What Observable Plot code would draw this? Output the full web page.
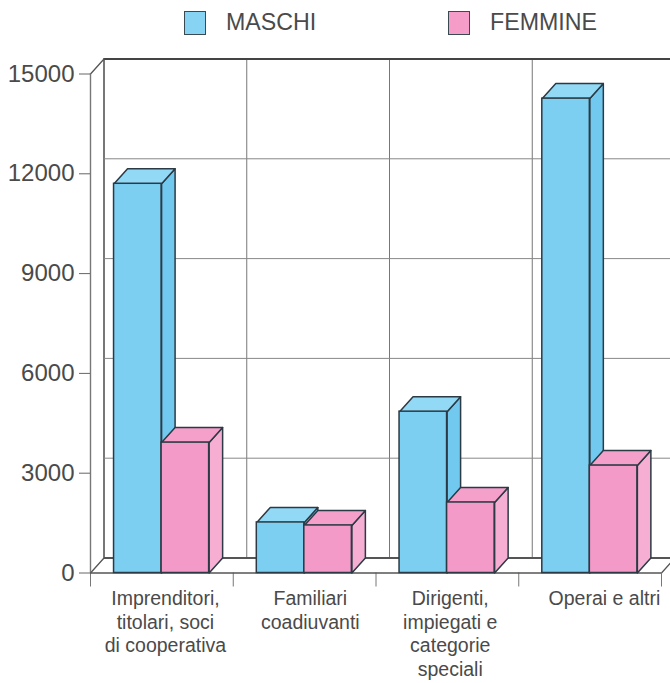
<!DOCTYPE html>
<html><head><meta charset="utf-8">
<script src="https://cdn.jsdelivr.net/npm/d3@7"></script>
<script src="https://cdn.jsdelivr.net/npm/@observablehq/plot@0.6"></script>
<style>
html,body{margin:0;padding:0;background:#fff;overflow:hidden}
#wrap{position:relative;width:670px;height:683px;font-family:"Liberation Sans",sans-serif;color:#4a4a4a}
#legend{position:relative;height:46px}
#legend i{position:absolute;top:12px;width:20px;height:22px;border:1.5px solid #3a4a52;box-sizing:content-box;margin:-1px}
#legend span{position:absolute;top:9px;font-size:23.2px;line-height:26px}
svg{display:block}
</style></head><body>
<div id="wrap">
<div id="legend">
<i style="left:185px;background:#86d3f3"></i><span style="left:226px">MASCHI</span>
<i style="left:449px;background:#f59cc9"></i><span style="left:490px">FEMMINE</span>
</div>
<div id="chart"></div>
</div>
<script>
const categories = ["Imprenditori,\ntitolari, soci\ndi cooperativa","Familiari\ncoadiuvanti","Dirigenti,\nimpiegati e\ncategorie\nspeciali","Operai e altri"];
const maschi  = [11700, 1520, 4850, 14260];
const femmine = [3920, 1430, 2120, 3230];
const yTicks  = [0, 3000, 6000, 9000, 12000, 15000];
const labelAt = [0.525, 1.54, 2.52, 3.6];

const depthX = 13.5 / 142.75, depthY = 451;     // oblique depth, in data units
const barW = 0.333, barStart = 0.165;
const ink = "#2b3a44";

const bars = [];
categories.forEach((c, i) => {
  bars.push({id: "m" + i, x1: i + barStart, x2: i + barStart + barW, v: maschi[i], front: "#7dcff2", top: "#92d9f6", side: "#72c9ef"});
  bars.push({id: "f" + i, x1: i + barStart + barW, x2: i + barStart + 2 * barW, v: femmine[i], front: "#f49ac8", top: "#f59fcb", side: "#f7aed3"});
});
const ring = (b, pts) => pts.map(([x, y]) => ({id: b.id, x, y}));
const sideRing = b => ring(b, [[b.x2, 0], [b.x2 + depthX, depthY], [b.x2 + depthX, b.v + depthY], [b.x2, b.v], [b.x2, 0]]);
const topRing = b => ring(b, [[b.x1, b.v], [b.x1 + depthX, b.v + depthY], [b.x2 + depthX, b.v + depthY], [b.x2, b.v], [b.x1, b.v]]);

const wallX = [1, 2, 3];
const wallY = yTicks.filter(v => v > 0 && v < 15000);

const marks = [
  // back wall
  Plot.ruleX(wallX, {x: d => d + depthX, y1: depthY, y2: 15000 + depthY, stroke: "#777", strokeWidth: 1}),
  Plot.ruleX([0], {x: d => d + depthX, y1: depthY, y2: 15000 + depthY, stroke: "#555", strokeWidth: 1.6}),
  Plot.ruleY(wallY, {y: d => d + depthY, x1: depthX, x2: 4 + depthX, stroke: "#888", strokeWidth: 1}),
  Plot.ruleY([15000 + depthY], {x1: depthX, x2: 4 + depthX, stroke: "#444", strokeWidth: 1.8}),
  Plot.ruleY([depthY], {x1: depthX, x2: 4 + depthX, stroke: "#555", strokeWidth: 2}),
  // side walls edges
  Plot.line([{x: 0, y: 15000}, {x: depthX, y: 15000 + depthY}], {x: "x", y: "y", stroke: "#555", strokeWidth: 1.3}),
  Plot.line([{x: 0, y: 0}, {x: depthX, y: depthY}], {x: "x", y: "y", stroke: "#555", strokeWidth: 1.3}),
  Plot.line([{x: 4, y: 0}, {x: 4 + depthX, y: depthY}], {x: "x", y: "y", stroke: "#555", strokeWidth: 1.3}),
  // axes
  Plot.ruleX([0], {y1: 0, y2: 15000, stroke: "#777", strokeWidth: 1.4}),
  Plot.axisY(yTicks, {tickSize: 11, tickPadding: 5, fontSize: 24, stroke: "#666", fill: "#4a4a4a", label: null, tickFormat: d => String(d)}),
  Plot.axisX([0, 1, 2, 3, 4], {tickSize: 14, stroke: "#777", tickFormat: () => "", label: null}),
  Plot.ruleY([0], {x1: 0, x2: 4, stroke: "#555", strokeWidth: 1.6}),
];
for (const b of bars) {
  marks.push(
    Plot.line(sideRing(b), {x: "x", y: "y", fill: b.side, stroke: ink, strokeWidth: 1.5, strokeLinejoin: "round"}),
    Plot.line(topRing(b), {x: "x", y: "y", fill: b.top, stroke: ink, strokeWidth: 1.5, strokeLinejoin: "round"}),
    Plot.rect([b], {x1: "x1", x2: "x2", y1: 0, y2: "v", fill: b.front, stroke: ink, strokeWidth: 1.5})
  );
}
marks.push(
  Plot.text(categories, {
    x: (d, i) => labelAt[i], y: () => 0, text: d => d,
    lineAnchor: "top", dy: 15, lineHeight: 1.22, fontSize: 19.5, fill: "#4a4a4a", textAnchor: "middle"
  })
);

const chart = Plot.plot({
  width: 670, height: 637,
  marginLeft: 90, marginRight: 9, marginTop: 27.5, marginBottom: 110.5,
  style: {fontFamily: '"Liberation Sans",sans-serif', background: "#fff", overflow: "hidden"},
  x: {type: "linear", domain: [0, 4], axis: null},
  y: {type: "linear", domain: [0, 15000], axis: null},
  marks
});
document.getElementById("chart").append(chart);
</script>
</body></html>
